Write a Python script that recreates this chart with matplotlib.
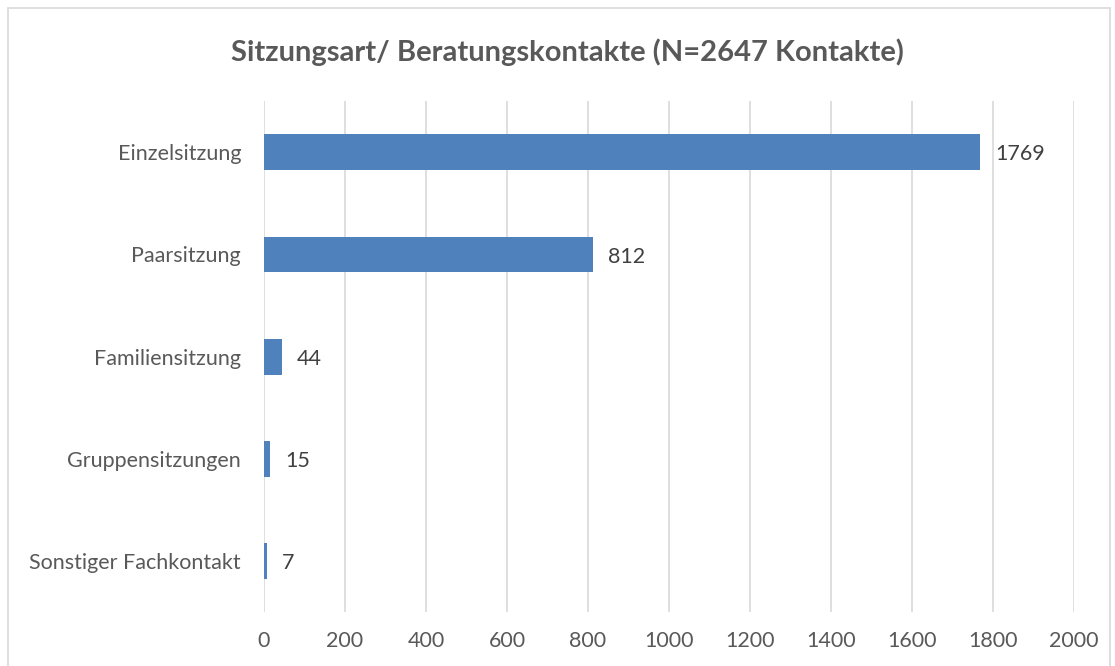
import matplotlib
matplotlib.use('Agg')
import matplotlib.pyplot as plt
from matplotlib.patches import Rectangle

# Daten
categories = ['Einzelsitzung', 'Paarsitzung', 'Familiensitzung', 'Gruppensitzungen', 'Sonstiger Fachkontakt']
values = [1769, 812, 44, 15, 7]
ticks = [0, 200, 400, 600, 800, 1000, 1200, 1400, 1600, 1800, 2000]

plt.rcParams['font.family'] = ['Lato', 'DejaVu Sans']

fig = plt.figure(figsize=(11.15, 6.66), dpi=100)
ax = fig.add_axes([0.2368, 0.081, 0.7264, 0.767])

# Rahmen um das Diagramm
fig.patches.append(Rectangle((8 / 1115, -0.01), 1102 / 1115, 0.998, transform=fig.transFigure,
                             fill=False, edgecolor='#D9D9D9', linewidth=1.2))

bars = ax.barh(range(len(categories)), values, height=0.35, color='#4F81BD', zorder=3)
for i, v in enumerate(values):
    ax.annotate(str(v), (v, i), xytext=(11, -1.5), textcoords='offset points',
                va='center', ha='left', fontsize=15.5, color='#404040')

ax.set_xlim(0, 2000)
ax.set_ylim(4.5, -0.5)
ax.set_xticks(ticks)
ax.set_yticks(range(len(categories)))
ax.set_yticklabels(categories)
ax.tick_params(axis='both', length=0, labelsize=15.5, labelcolor='#595959')
ax.tick_params(axis='x', pad=14)
ax.tick_params(axis='y', pad=16.5)
ax.grid(axis='x', color='#D9D9D9', linewidth=1.2, zorder=0)
for s in ax.spines.values():
    s.set_visible(False)

fig.text(0.509, 0.922, 'Sitzungsart/ Beratungskontakte (N=2647 Kontakte)', ha='center', va='center',
         fontsize=21, fontweight='bold', color='#595959')

plt.savefig('out.png', dpi=100)
